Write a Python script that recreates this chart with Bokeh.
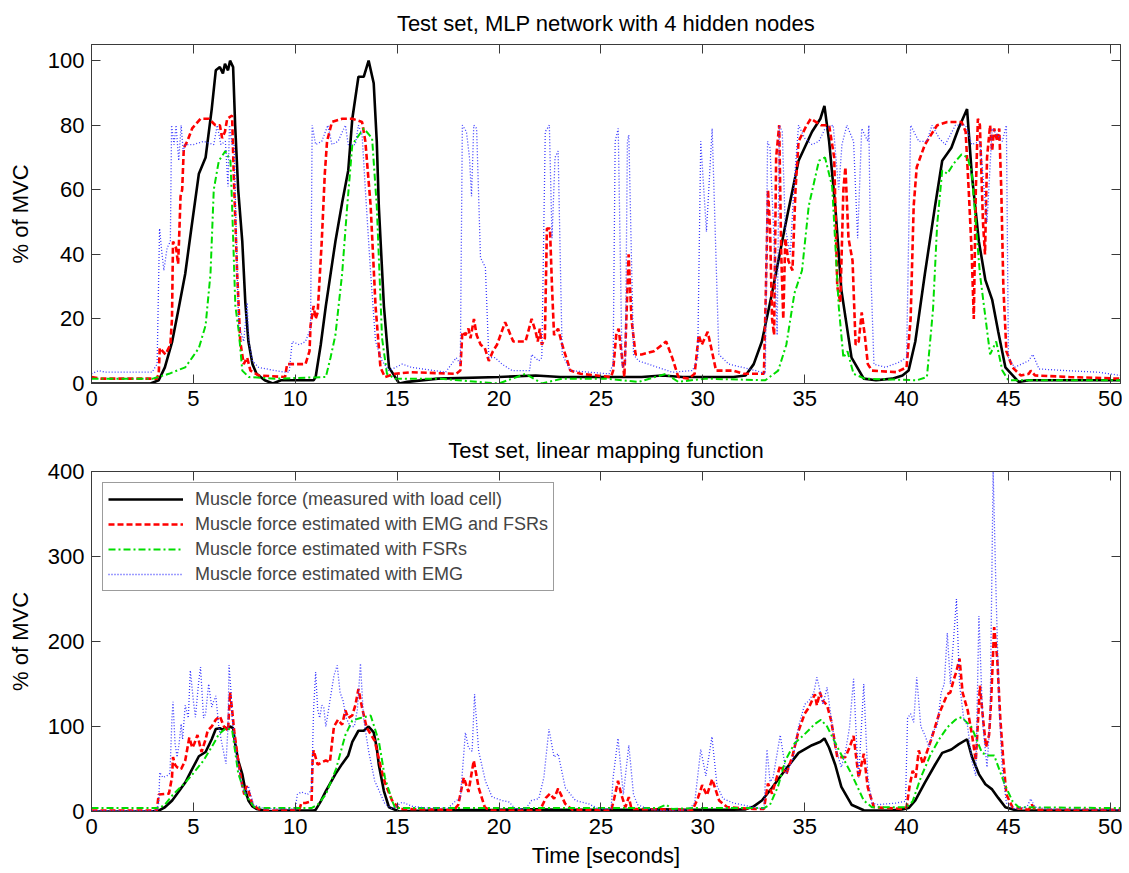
from bokeh.plotting import figure
from bokeh.layouts import column
from bokeh.models import LinearAxis, FixedTicker, Range1d, Legend, LegendItem
from bokeh.embed import file_html
from bokeh.resources import INLINE

# ---------------- data (time [s], % of MVC) ----------------
x_ticks = [0, 5, 10, 15, 20, 25, 30, 35, 40, 45, 50]
top_y_ticks = [0, 20, 40, 60, 80, 100]
bottom_y_ticks = [0, 100, 200, 300, 400]

top_title = "Test set, MLP network with 4 hidden nodes"
bottom_title = "Test set, linear mapping function"
y_label = "% of MVC"
x_label = "Time [seconds]"

series_names = [
    "Muscle force (measured with load cell)",
    "Muscle force estimated with EMG and FSRs",
    "Muscle force estimated with FSRs",
    "Muscle force estimated with EMG",
]

# measured force (same in both panels)
force = [(0, 0), (2.9, 0), (3.3, 1), (3.6, 5), (3.96, 13), (4.3, 24), (4.6, 34), (4.9, 48), (5.27, 65),
         (5.6, 70), (5.9, 85), (6.1, 97), (6.3, 98), (6.45, 96), (6.55, 99), (6.7, 97), (6.8, 100),
         (6.95, 98), (7.05, 80), (7.2, 60), (7.4, 44), (7.55, 25), (7.7, 13), (7.9, 6), (8.1, 3),
         (8.5, 1), (8.9, 0), (9.3, 1), (10.0, 1), (10.9, 1), (11.0, 2), (11.25, 12), (11.5, 24),
         (11.97, 44), (12.3, 56), (12.6, 66), (12.8, 82), (13.1, 95), (13.36, 95), (13.6, 100),
         (13.85, 93), (14.0, 75), (14.1, 55), (14.35, 24), (14.6, 5), (15.1, 0), (15.5, 0.5),
         (17, 1.5), (20, 2), (21.8, 2.5), (23, 2), (27, 2), (28, 2.5), (29, 2), (31.5, 2),
         (32.1, 2.5), (32.5, 6), (32.9, 13), (33.4, 28), (34.05, 49), (34.7, 69), (35.36, 78),
         (35.77, 82), (35.97, 86), (36.2, 75), (36.5, 55), (36.8, 29), (37.3, 8), (37.9, 1.5),
         (38.5, 1), (39.3, 1.5), (39.8, 2.5), (40.1, 4), (40.43, 13), (40.9, 34), (41.4, 55),
         (41.75, 69), (42.2, 73), (42.55, 79), (42.97, 85), (43.2, 65), (43.55, 44), (43.87, 32),
         (44.2, 26), (44.5, 16), (44.85, 5), (45.5, 0.5), (46, 1), (50.5, 1)]

# MLP network estimates
mlp_emg_fsr = [(0, 2), (0.5, 1.5), (3.2, 1.5), (3.3, 3), (3.35, 11), (3.63, 9), (3.87, 12), (3.95, 20),
               (4.0, 44), (4.15, 42), (4.25, 37), (4.3, 45), (4.37, 58), (4.45, 60), (4.53, 73),
               (4.7, 75), (4.94, 79), (5.35, 82), (5.76, 82), (6.08, 80), (6.3, 80), (6.41, 76),
               (6.55, 78), (6.66, 82), (6.9, 83), (6.98, 65), (7.15, 34), (7.3, 13), (7.47, 6),
               (7.64, 8), (7.8, 4), (8.2, 2.5), (9.5, 2), (9.6, 6), (10.5, 6), (10.7, 10), (10.75, 18),
               (10.9, 24), (11.0, 20), (11.1, 22), (11.3, 44), (11.45, 65), (11.56, 75), (11.8, 81),
               (12.3, 82), (12.8, 82), (13.28, 81), (13.44, 75), (13.7, 55), (13.94, 24), (14.18, 5),
               (14.4, 2), (14.9, 3), (15.7, 3.5), (17.9, 3), (18.1, 4), (18.2, 16), (18.35, 15),
               (18.5, 17), (18.6, 14), (18.77, 20), (18.9, 15), (19.1, 12), (19.3, 11), (19.5, 7),
               (19.7, 10), (19.9, 12), (20.3, 19), (20.5, 16), (20.7, 13), (21.3, 13), (21.6, 20),
               (21.8, 16), (21.9, 13), (22.0, 17), (22.1, 12), (22.25, 14), (22.35, 48), (22.5, 48),
               (22.6, 30), (22.7, 15), (22.9, 17), (23.1, 12), (23.5, 4), (24, 3), (25.5, 2),
               (25.6, 4), (25.75, 15), (25.87, 17), (26.0, 10), (26.15, 2), (26.25, 20), (26.36, 40),
               (26.5, 20), (26.7, 9), (27.0, 9), (27.6, 10), (28.2, 13), (28.5, 8), (28.8, 2),
               (29.3, 1.5), (29.6, 3), (29.8, 15), (29.95, 12), (30.24, 16), (30.45, 10), (30.65, 4),
               (31.5, 4), (32.0, 3), (33.0, 3), (33.1, 30), (33.2, 60), (33.3, 48), (33.4, 20),
               (33.5, 15), (33.6, 70), (33.75, 80), (33.85, 40), (33.95, 20), (34.05, 45), (34.2, 38),
               (34.4, 35), (34.55, 60), (34.7, 75), (35.1, 80), (35.3, 82), (35.8, 80), (36.2, 80),
               (36.45, 70), (36.6, 30), (36.75, 25), (36.9, 60), (37.0, 67), (37.15, 45), (37.35, 38),
               (37.5, 12), (37.65, 13), (37.8, 22), (37.95, 15), (38.1, 6), (38.3, 4), (39.5, 3.5),
               (40.0, 5), (40.2, 20), (40.35, 55), (40.5, 67), (40.9, 74), (41.2, 77), (41.5, 80),
               (42.0, 81), (42.7, 81), (42.9, 78), (43.05, 60), (43.2, 40), (43.3, 20), (43.4, 60),
               (43.5, 82), (43.6, 80), (43.75, 50), (43.85, 40), (43.95, 70), (44.1, 80), (44.2, 72),
               (44.3, 79), (44.45, 75), (44.55, 79), (44.65, 60), (44.75, 30), (44.9, 10), (45.2, 5),
               (45.6, 2.5), (46.0, 3), (46.1, 4), (46.3, 2.5), (48, 2), (50.5, 1.5)]

mlp_fsr = [(0, 1.5), (3.0, 1.5), (3.8, 3), (4.6, 5), (4.94, 8), (5.27, 11), (5.6, 18), (5.84, 34),
           (6.0, 60), (6.25, 69), (6.57, 72), (6.82, 69), (6.9, 55), (7.06, 24), (7.23, 16), (7.4, 4),
           (7.72, 2), (9, 1.5), (11.5, 2), (11.73, 8), (11.97, 15), (12.3, 34), (12.55, 55),
           (12.8, 74), (13.36, 79), (13.77, 76), (14.0, 55), (14.26, 14), (14.5, 3), (14.9, 1.5),
           (17, 1.5), (19.99, 0), (21.3, 3), (22.1, 0), (23.1, 1.5), (25.2, 1.5), (26.85, 0.5),
           (28.2, 3), (28.8, 0.5), (30.1, 1.5), (33.07, 1), (33.7, 4), (34.1, 12), (34.5, 28),
           (34.87, 35), (35.2, 55), (35.7, 69), (36.0, 70), (36.35, 61), (36.67, 24), (36.9, 8),
           (37.1, 10), (37.4, 3), (37.95, 1.5), (40.5, 1), (41.0, 2), (41.3, 23), (41.5, 49),
           (41.75, 66), (42.0, 65), (42.3, 68), (42.7, 71), (43.0, 70), (43.2, 65), (43.6, 34),
           (44.1, 9), (44.4, 13), (44.7, 4), (45.0, 1), (50.5, 1)]

mlp_emg = [(0, 3), (0.36, 4), (0.69, 3.5), (2.97, 3.5), (3.22, 6), (3.34, 48), (3.43, 42), (3.55, 35),
           (3.71, 42), (3.87, 44), (3.93, 80), (4.05, 74), (4.15, 80), (4.28, 69), (4.4, 80),
           (4.5, 72), (4.6, 74), (5.0, 74), (5.5, 75), (6.0, 74), (6.17, 80), (6.35, 74), (6.57, 75),
           (6.7, 61), (6.77, 80), (6.9, 74), (7.0, 74), (7.15, 34), (7.23, 18), (7.47, 13),
           (7.64, 25), (7.72, 13), (7.9, 7), (8.2, 5), (9.0, 4), (9.5, 3.5), (9.7, 3.5), (9.85, 13),
           (10.2, 12), (10.5, 13), (10.75, 17), (10.83, 80), (11.0, 74), (11.3, 75), (11.6, 80),
           (11.8, 74), (12.1, 75), (12.46, 80), (12.6, 74), (12.95, 74), (13.1, 80), (13.28, 77),
           (13.44, 60), (13.7, 34), (13.94, 13), (14.26, 7), (14.6, 4), (15.25, 6), (15.7, 5),
           (17.38, 3.5), (17.9, 8), (18.1, 6), (18.2, 80), (18.4, 78), (18.55, 70), (18.65, 58),
           (18.76, 80), (18.9, 79), (19.09, 39), (19.33, 36), (19.5, 8), (19.8, 8), (20.15, 6),
           (20.64, 4), (21.5, 4), (21.6, 9), (21.95, 7), (22.1, 8), (22.27, 78), (22.47, 80),
           (22.6, 45), (22.75, 70), (22.9, 72), (23.1, 9), (23.5, 4), (25.4, 3), (25.6, 6),
           (25.7, 75), (25.85, 79), (26.04, 5), (26.2, 6), (26.3, 75), (26.37, 77), (26.6, 9),
           (26.85, 7), (28.5, 3.5), (29.5, 4), (29.75, 8), (29.9, 75), (30.18, 47), (30.46, 79),
           (30.79, 9), (31.27, 6), (32.6, 4), (33.07, 3), (33.18, 75), (33.3, 73), (33.5, 44),
           (33.65, 15), (33.76, 80), (33.9, 78), (34.05, 48), (34.3, 40), (34.46, 60), (34.7, 80),
           (35.0, 76), (35.36, 74), (35.7, 75), (36.0, 79), (36.4, 80), (36.67, 60), (36.83, 74),
           (37.07, 80), (37.4, 75), (37.6, 45), (37.8, 79), (38.1, 75), (38.15, 80), (38.25, 34),
           (38.4, 6), (38.96, 5), (39.6, 6.5), (40.0, 8), (40.2, 80), (40.6, 75), (41.0, 75),
           (41.25, 80), (41.6, 76), (41.9, 74), (42.4, 80), (42.9, 80), (43.2, 74), (43.6, 75),
           (43.95, 50), (44.2, 79), (44.7, 75), (44.9, 80), (45.0, 8), (45.3, 5), (45.98, 7),
           (46.2, 9), (46.5, 4.5), (47.8, 4), (49.4, 3.5), (50.5, 2.5)]

# linear mapping estimates
lin_emg_fsr = [(0, 1), (3.2, 1), (3.3, 20), (3.8, 21), (3.95, 40), (4.0, 64), (4.1, 55), (4.2, 52),
               (4.4, 50), (4.6, 60), (4.8, 87), (4.95, 75), (5.05, 80), (5.2, 90), (5.4, 70),
               (5.6, 85), (5.7, 95), (5.9, 100), (6.1, 108), (6.3, 112), (6.5, 100), (6.7, 95),
               (6.8, 140), (6.9, 120), (7.0, 95), (7.2, 60), (7.4, 30), (7.5, 20), (7.6, 30),
               (7.7, 25), (7.9, 8), (8.2, 3), (8.5, 1), (9.5, 1), (10.2, 2), (10.3, 10), (10.5, 10),
               (10.8, 12), (10.85, 60), (10.9, 72), (11.1, 55), (11.3, 58), (11.5, 60), (11.7, 58),
               (11.8, 80), (11.9, 100), (12.1, 108), (12.3, 102), (12.46, 119), (12.6, 110),
               (12.8, 113), (12.95, 125), (13.1, 144), (13.28, 122), (13.5, 99), (13.9, 83),
               (14.2, 52), (14.4, 34), (14.75, 13), (15.1, 3), (17.8, 2), (18.0, 8), (18.27, 40),
               (18.5, 23), (18.76, 60), (19.0, 28), (19.3, 5), (19.6, 1), (22.0, 1), (22.3, 16),
               (22.5, 21), (22.7, 15), (22.9, 27), (23.25, 9), (23.6, 2), (25.5, 1), (25.65, 15),
               (25.84, 36), (26.0, 20), (26.2, 5), (26.37, 17), (26.5, 3), (29.5, 2), (29.75, 15),
               (29.97, 31), (30.2, 19), (30.46, 38), (30.8, 13), (31.2, 5), (32.5, 3), (33.0, 3),
               (33.2, 33), (33.4, 21), (33.8, 54), (34.1, 44), (34.4, 65), (34.7, 95), (35.0, 115),
               (35.2, 122), (35.5, 138), (35.6, 125), (35.75, 140), (35.9, 130), (36.1, 125),
               (36.3, 107), (36.6, 64), (37.0, 64), (37.2, 75), (37.4, 89), (37.65, 40), (37.9, 68),
               (38.1, 28), (38.4, 5), (39.8, 3), (40.0, 5), (40.15, 30), (40.3, 48), (40.45, 40),
               (40.6, 72), (40.8, 56), (41.0, 70), (41.2, 84), (41.6, 115), (42.0, 138), (42.15, 140),
               (42.3, 154), (42.45, 165), (42.6, 180), (42.75, 140), (43.0, 119), (43.2, 92),
               (43.4, 60), (43.6, 148), (43.75, 110), (43.9, 76), (44.05, 90), (44.15, 130),
               (44.3, 217), (44.45, 180), (44.6, 110), (44.75, 60), (44.9, 20), (45.2, 5), (46.0, 2),
               (46.15, 8), (46.3, 2), (50.5, 2)]

lin_fsr = [(0, 4), (3.3, 4), (3.6, 8), (4.0, 20), (4.6, 34), (5.0, 45), (5.5, 60), (6.0, 80),
           (6.25, 91), (6.6, 98), (6.9, 96), (7.2, 45), (7.55, 20), (8.0, 5), (8.5, 4), (10.8, 4),
           (11.1, 8), (11.5, 20), (12.0, 50), (12.46, 90), (12.8, 107), (13.2, 110), (13.7, 113),
           (14.1, 83), (14.4, 40), (14.75, 13), (14.9, 4), (27.8, 4), (28.2, 8), (28.5, 3),
           (29.5, 4), (33.0, 4), (33.3, 8), (33.7, 30), (34.05, 60), (34.5, 80), (35.0, 91),
           (35.5, 103), (35.8, 108), (36.1, 100), (36.6, 76), (37.3, 44), (37.9, 13), (38.3, 5),
           (40.0, 5), (40.3, 12), (40.7, 40), (41.2, 68), (41.6, 85), (42.0, 99), (42.4, 108),
           (42.7, 111), (43.2, 99), (43.7, 69), (44.0, 66), (44.3, 66), (44.8, 33), (45.2, 12),
           (45.5, 5), (50.5, 4)]

lin_emg = [(0, 1), (3.2, 1), (3.3, 10), (3.35, 46), (3.5, 40), (3.7, 42), (3.85, 45), (3.95, 110),
           (4.0, 129), (4.1, 80), (4.2, 64), (4.3, 80), (4.4, 103), (4.47, 85), (4.6, 125),
           (4.75, 110), (4.85, 166), (5.0, 130), (5.1, 111), (5.25, 150), (5.35, 170), (5.5, 110),
           (5.6, 115), (5.75, 150), (5.9, 123), (6.0, 130), (6.1, 136), (6.25, 99), (6.4, 80),
           (6.6, 56), (6.7, 100), (6.75, 172), (6.85, 140), (6.9, 110), (7.15, 60), (7.4, 29),
           (7.55, 20), (7.7, 30), (7.95, 8), (8.5, 3), (10.0, 3), (10.1, 20), (10.3, 23), (10.6, 20),
           (10.8, 25), (10.9, 120), (11.0, 164), (11.1, 120), (11.2, 110), (11.3, 125), (11.4, 122),
           (11.5, 100), (11.7, 130), (11.9, 160), (12.06, 172), (12.2, 140), (12.35, 130),
           (12.5, 110), (12.7, 100), (12.9, 100), (13.05, 120), (13.2, 174), (13.35, 110),
           (13.6, 71), (13.9, 36), (14.4, 9), (14.75, 3), (15.25, 11), (15.75, 6), (16.5, 4),
           (17.5, 4), (17.9, 13), (18.1, 15), (18.35, 93), (18.5, 75), (18.68, 71), (18.8, 138),
           (19.0, 71), (19.33, 36), (19.66, 17), (20.15, 13), (20.5, 11), (20.8, 3), (21.3, 3),
           (21.6, 13), (21.95, 15), (22.2, 40), (22.45, 97), (22.7, 64), (22.9, 68), (23.25, 28),
           (23.75, 13), (24.4, 9), (24.9, 3), (25.5, 3), (25.6, 40), (25.84, 86), (26.1, 20),
           (26.37, 78), (26.6, 20), (26.8, 8), (27.3, 3), (28.0, 1), (29.3, 2), (29.6, 10),
           (29.9, 73), (30.15, 42), (30.45, 88), (30.7, 30), (31.0, 15), (31.5, 10), (32.5, 5),
           (33.0, 3), (33.15, 73), (33.3, 35), (33.45, 40), (33.8, 90), (34.1, 44), (34.4, 60),
           (34.7, 100), (35.0, 126), (35.2, 130), (35.45, 140), (35.6, 158), (35.9, 126),
           (36.1, 146), (36.3, 110), (36.5, 76), (36.8, 52), (37.0, 70), (37.2, 99), (37.4, 156),
           (37.55, 80), (37.65, 40), (37.9, 150), (38.1, 40), (38.3, 10), (38.6, 8), (39.5, 10),
           (39.95, 12), (40.05, 110), (40.2, 115), (40.35, 105), (40.5, 158), (40.7, 100),
           (40.9, 90), (41.1, 76), (41.3, 95), (41.5, 100), (41.7, 140), (41.85, 150), (42.0, 210),
           (42.15, 150), (42.3, 200), (42.45, 250), (42.6, 150), (42.8, 110), (43.0, 100),
           (43.2, 60), (43.4, 42), (43.55, 230), (43.75, 100), (43.95, 52), (44.1, 110),
           (44.25, 400), (44.4, 250), (44.55, 120), (44.7, 50), (44.9, 10), (45.3, 3), (45.9, 5),
           (46.1, 15), (46.3, 5), (47, 3), (50.5, 2)]

# ---------------- styling ----------------
FONT = "Liberation Sans"
FS = "22px"
FRAME = "#3a3a3a"

styles = [
    dict(color="black", line_width=2.6, line_dash="solid"),
    dict(color="#ff0000", line_width=2.6, line_dash="6 3"),
    dict(color="#00dd00", line_width=2.0, line_dash="7 3 2 3"),
    dict(color="#3a3aff", line_width=1.3, line_dash="1 2"),
]


def style_axis(ax, ticks, labels=True):
    ax.ticker = FixedTicker(ticks=ticks)
    ax.axis_line_color = FRAME
    ax.major_tick_line_color = FRAME
    ax.major_tick_in = 9
    ax.major_tick_out = 0
    ax.minor_tick_line_color = None
    ax.major_label_text_font = FONT
    ax.major_label_text_color = "black"
    ax.axis_label_text_font = FONT
    ax.axis_label_text_font_size = FS
    ax.axis_label_text_font_style = "normal"
    ax.axis_label_text_color = "black"
    if labels:
        ax.major_label_text_font_size = FS
        ax.major_label_standoff = 7
    else:
        ax.major_label_overrides = {t: "" for t in ticks}
        ax.major_label_text_font_size = "1px"
        ax.major_label_standoff = 0


def make_fig(title, ymax, yticks, height, top, bottom):
    p = figure(width=1122, height=height, output_backend="svg", toolbar_location=None,
               x_range=Range1d(0, 50.5), y_range=Range1d(0, ymax),
               min_border_left=91, min_border_right=2, min_border_top=top,
               min_border_bottom=bottom, title=title)
    p.title.align = "center"
    p.title.text_font = FONT
    p.title.text_font_size = FS
    p.title.text_font_style = "normal"
    p.title.text_color = "black"
    p.title.standoff = 17
    p.grid.visible = False
    p.outline_line_color = FRAME
    p.background_fill_color = "white"
    p.border_fill_color = "white"
    xa = p.below[0]
    ya = p.left[0]
    style_axis(xa, x_ticks)
    style_axis(ya, yticks)
    ya.axis_label = y_label
    ya.axis_label_standoff = 12
    top_ax = LinearAxis()
    style_axis(top_ax, x_ticks, labels=False)
    p.add_layout(top_ax, "above")
    right_ax = LinearAxis()
    style_axis(right_ax, yticks, labels=False)
    p.add_layout(right_ax, "right")
    return p, xa


def draw(p, data_list):
    renderers = []
    for data, st in zip(data_list, styles):
        xs = [d[0] for d in data]
        ys = [d[1] for d in data]
        renderers.append(p.line(xs, ys, **st))
    return renderers


p1, _ = make_fig(top_title, 105, top_y_ticks, 418, 42, 35)
draw(p1, [force, mlp_emg_fsr, mlp_fsr, mlp_emg])

p2, xa2 = make_fig(bottom_title, 400, bottom_y_ticks, 452, 53, 59)
xa2.axis_label = x_label
xa2.axis_label_standoff = 6
rs = draw(p2, [force, lin_emg_fsr, lin_fsr, lin_emg])

legend = Legend(items=[LegendItem(label=n, renderers=[r]) for n, r in zip(series_names, rs)],
                location="top_left")
legend.label_text_font = FONT
legend.label_text_font_size = "18px"
legend.glyph_width = 75
legend.glyph_height = 22
legend.label_height = 22
legend.label_standoff = 12
legend.spacing = 3
legend.padding = 5
legend.margin = 11
legend.border_line_color = FRAME
legend.border_line_width = 1
legend.background_fill_alpha = 1
p2.add_layout(legend)

layout = column(p1, p2, spacing=0)
open("out.html", "w").write(file_html(layout, INLINE))
